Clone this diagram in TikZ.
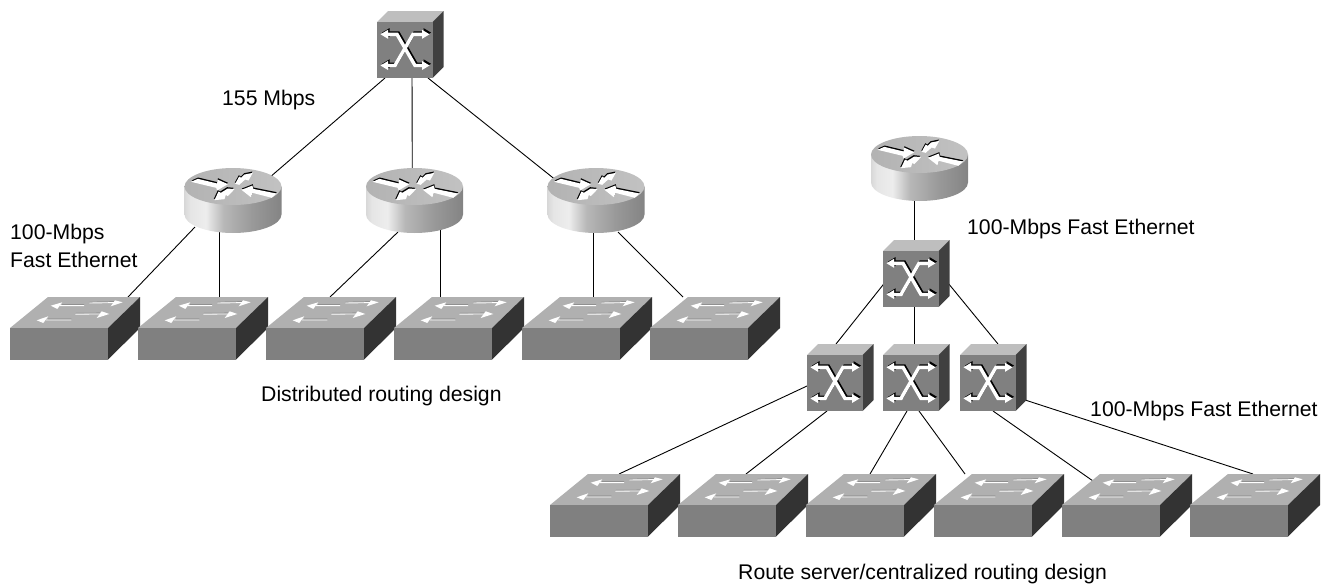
\documentclass[tikz,border=0pt]{standalone}
\usepackage{fontspec}
\setmainfont{Liberation Sans}
\usetikzlibrary{backgrounds}
\definecolor{cfront}{HTML}{808080}
\definecolor{ctop}{HTML}{BEBEBE}
\definecolor{cside}{HTML}{404040}
\definecolor{wtop}{HTML}{B0B0B0}
\definecolor{wside}{HTML}{333333}
\pgfdeclarehorizontalshading{routerside}{100bp}{
 color(0bp)=(black!52); color(12bp)=(black!38); color(28bp)=(black!10); color(36bp)=(black!7);
 color(45bp)=(black!28); color(60bp)=(black!40); color(78bp)=(black!50); color(92bp)=(black!63); color(100bp)=(black!70)}
\newcommand\xarrows{%
  \foreach \dx/\dy/\c/\w in {1.5/-1.7/black/2.6,0/0/white/3.4}{%
    \begin{scope}[shift={(\dx,\dy)}]
      \draw[\c,line width=\w pt,line join=miter] (9,12.3) -- (20,12.3) -- (38,43.5) -- (47,43.5);
      \draw[\c,line width=\w pt,line join=miter] (47,12.3) -- (36,12.3) -- (18,43.5) -- (9,43.5);
      \fill[\c] (3.5,12.3) -- (11,7.8) -- (11,16.8) -- cycle;
      \fill[\c] (52.5,12.3) -- (45,7.8) -- (45,16.8) -- cycle;
      \fill[\c] (3.5,43.5) -- (11,39) -- (11,48) -- cycle;
      \fill[\c] (52.5,43.5) -- (45,39) -- (45,48) -- cycle;
    \end{scope}}%
}
\tikzset{
  x=1pt,y=-1pt,
  devbox/.style={inner sep=0pt,outer sep=0pt,draw=none},
  wire/.style={black,line width=0.9pt},
  lbl/.style={anchor=west,inner sep=0pt,font=\fontsize{21.2}{24}\selectfont},
  xcube/.pic={
    \node[devbox,minimum width=66.5pt,minimum height=67pt] (-b) at (33.25,22.5) {};
    \fill[ctop] (0,0) -- (11,-11) -- (66.5,-11) -- (55.5,0) -- cycle;
    \fill[cside] (55.5,0) -- (66.5,-11) -- (66.5,45) -- (55.5,56) -- cycle;
    \fill[cfront] (0,0) rectangle (55.5,56);
    \xarrows
  },
  wgswitch/.pic={
    \node[devbox,minimum width=130pt,minimum height=62.5pt] (-b) at (65,0) {};
    \fill[wtop] (0,0) -- (38,-31) -- (130,-31) -- (98,0) -- cycle;
    \fill[wside] (98,0) -- (130,-31) -- (130,0) -- (98,31.5) -- cycle;
    \fill[cfront] (0,0) rectangle (98,31.5);
    \draw[black!50,line width=0.6pt] (52,-23.3) -- (74,-23.3) (79.3,-25.8) -- (104,-26.3) (38,-9) -- (61.3,-9) (65.3,-14.7) -- (90,-15);
    \draw[white,line width=0.9pt] (50,-22.4) -- (74,-22.4) (79.3,-25) -- (104,-25.4) (36,-8) -- (61.3,-8) (65.3,-13.9) -- (90,-14);
    \fill[white] (40.7,-22.3) -- (52.3,-25.7) -- (47.3,-19) -- cycle;
    \fill[white] (112.7,-25.7) -- (105,-27.7) -- (100.7,-21.7) -- cycle;
    \fill[white] (26.7,-7.7) -- (38.3,-11.7) -- (33.3,-5) -- cycle;
    \fill[white] (99.3,-14) -- (91.7,-16.7) -- (86.7,-10) -- cycle;
  },
  router/.pic={
    \node[devbox,minimum width=97pt,minimum height=65pt] (-b) at (0,14) {};
    \path[shading=routerside]
      (-48.5,0) -- (-48.5,28)
      .. controls (-48.5,38) and (-26.8,46.5) .. (0,46.5)
      .. controls (26.8,46.5) and (48.5,38) .. (48.5,28)
      -- (48.5,0) -- cycle;
    \path[left color=black!30,right color=black!24]
      (-48.5,0) .. controls (-48.5,-10) and (-26.8,-18.5) .. (0,-18.5)
      .. controls (26.8,-18.5) and (48.5,-10) .. (48.5,0)
      .. controls (48.5,10) and (26.8,18.5) .. (0,18.5)
      .. controls (-26.8,18.5) and (-48.5,10) .. (-48.5,0) -- cycle;
    \begin{scope}[shift={(-62.5,-26)},scale=0.3333]
      \foreach \dx/\dy/\c in {1/-4/black,0/0/white}{%
        \begin{scope}[shift={(\dx,\dy)}]
          \fill[\c] (62,64) -- (82,55) -- (140,69) -- (141,57) -- (172,71) -- (140,90) -- (137,82) -- cycle;
          \fill[\c] (213,88) -- (246,75) -- (248,85) -- (318,99) -- (304,112) -- (246,97) -- (241,110) -- cycle;
        \end{scope}}
      \foreach \dx/\dy/\c in {-1/-4/black,0/0/white}{%
        \begin{scope}[shift={(\dx,\dy)}]
          \fill[\c] (194,70) -- (206,48) -- (212,52) -- (222,42) -- (247,37) -- (234,60) -- (224,57) -- (206,73) -- cycle;
        \end{scope}}
      \foreach \dx/\dy/\c in {-2/-4/black,0/0/white}{%
        \begin{scope}[shift={(\dx,\dy)}]
          \fill[\c] (132,119) -- (144,93) -- (151,97) -- (172,84) -- (192,86) -- (172,107) -- (166,103) -- (162,116) -- cycle;
        \end{scope}}
    \end{scope}
  },
}
\newcommand\lnk[6]{\draw[wire] ([shift={(#2,#3)}]#1-b.center) -- ([shift={(#5,#6)}]#4-b.center);}
\begin{document}
\begin{tikzpicture}
\useasboundingbox (0,0) rectangle (1328,584);
% devices
\pic (T) at (377,22) {xcube};
\pic (Ra) at (233,186.5) {router};
\pic (Rb) at (414.5,186.5) {router};
\pic (Rc) at (596,186.5) {router};
\pic (Rd) at (919.5,154.5) {router};
\pic (Xm) at (883,251) {xcube};
\pic (Xa) at (807,355) {xcube};
\pic (Xb) at (883,355) {xcube};
\pic (Xc) at (960,355) {xcube};
\pic (Sa) at (10,328) {wgswitch};
\pic (Sb) at (138,328) {wgswitch};
\pic (Sc) at (266,328) {wgswitch};
\pic (Sd) at (394,328) {wgswitch};
\pic (Se) at (522,328) {wgswitch};
\pic (Sf) at (650,328) {wgswitch};
\pic (Sg) at (550,505) {wgswitch};
\pic (Sh) at (678,505) {wgswitch};
\pic (Si) at (806,505) {wgswitch};
\pic (Sj) at (934,505) {wgswitch};
\pic (Sk) at (1062,505) {wgswitch};
\pic (Sl) at (1190,505) {wgswitch};
% connectors
\begin{scope}[on background layer]
\lnk{T}{-25.25}{33.5}{Ra}{29}{-16.5}
\lnk{T}{1.75}{25.5}{Rb}{-2.2}{-20.5}
\lnk{T}{17.75}{33.5}{Rc}{-34}{-15.5}
\lnk{Ra}{-38}{26.5}{Sa}{53}{-31}
\lnk{Ra}{-14}{24.5}{Sb}{16}{-31}
\lnk{Rb}{-16.5}{31.5}{Sc}{-1}{-31}
\lnk{Rb}{26.2}{24.5}{Sd}{-18.3}{-31}
\lnk{Rc}{-2.7}{24.5}{Se}{6.3}{-31}
\lnk{Rc}{22}{31.5}{Sf}{-32}{-31}
\lnk{Rd}{-5}{21.5}{Xm}{-1.75}{-28.5}
\lnk{Xm}{-31.75}{9.5}{Xa}{-4.25}{-33.5}
\lnk{Xm}{-2.25}{26.5}{Xb}{-2.25}{-27.5}
\lnk{Xm}{31.75}{9.5}{Xc}{4.75}{-33.5}
\lnk{Xa}{-33.25}{8.5}{Sg}{4}{-31}
\lnk{Xa}{-13.25}{33.5}{Sh}{3}{-31}
\lnk{Xb}{-9.25}{33.5}{Si}{-1}{-31}
\lnk{Xb}{2.75}{33.5}{Sj}{-34}{-31}
\lnk{Xc}{-0.25}{33.5}{Sk}{-34}{-24}
\lnk{Xc}{28.75}{21.5}{Sl}{-2}{-31}
\end{scope}
% labels
\node[lbl] (t1) at (222,100) {155 Mbps};
\node[lbl] (t2) at (10,234) {100-Mbps};
\node[lbl] (t3) at (10,260) {Fast Ethernet};
\node[lbl] (t4) at (967,229) {100-Mbps Fast Ethernet};
\node[lbl] (t5) at (1090,411) {100-Mbps Fast Ethernet};
\node[lbl] (t6) at (261,396) {Distributed routing design};
\node[lbl] (t7) at (738,574) {Route server/centralized routing design};
\end{tikzpicture}
\end{document}
